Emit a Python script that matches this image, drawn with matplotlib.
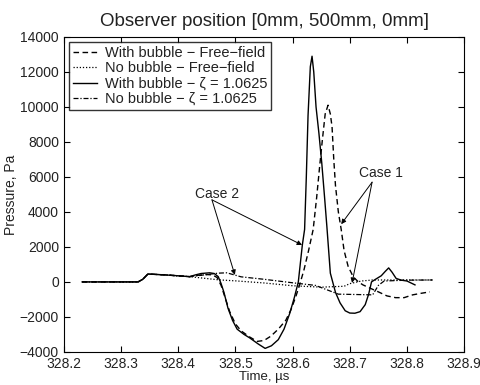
import matplotlib
matplotlib.use('Agg')
import matplotlib.pyplot as plt

plt.rcParams['font.family'] = ['Liberation Sans', 'DejaVu Sans']

# time in microseconds, pressure in Pa
t_wb_ff = [328.232, 328.33, 328.338, 328.347, 328.377, 328.42, 328.435, 328.45, 328.46,
           328.468, 328.475, 328.482, 328.49, 328.50, 328.51, 328.525, 328.538, 328.55,
           328.562, 328.575, 328.588, 328.597, 328.605, 328.612, 328.62, 328.628,
           328.636, 328.642, 328.647, 328.652, 328.657, 328.662, 328.666, 328.669,
           328.672, 328.675, 328.68, 328.685, 328.69, 328.697, 328.706, 328.715,
           328.723, 328.735, 328.75, 328.765, 328.78, 328.795, 328.81, 328.825, 328.84]
p_wb_ff = [0, 0, 150, 450, 400, 300, 380, 420, 400,
           250, -200, -900, -1700, -2400, -2800, -3150, -3400, -3350,
           -3100, -2700, -2200, -1600, -900, -200, 700, 1800,
           3000, 4800, 6500, 8100, 9600, 10100, 9600, 8860,
           7000, 5500, 4000, 3000, 1800, 900, 290, 0,
           -170, -350, -570, -800, -900, -900, -740, -650, -570]

t_nb_ff = [328.232, 328.33, 328.338, 328.347, 328.377, 328.42, 328.47, 328.5, 328.55,
           328.6, 328.65, 328.69, 328.70, 328.72, 328.74, 328.8, 328.845]
p_nb_ff = [0, 0, 150, 450, 400, 300, 120, 60, -60,
           -220, -300, -250, -100, 50, 110, 110, 110]

t_wb_z = [328.232, 328.33, 328.338, 328.347, 328.36, 328.377, 328.40, 328.42, 328.43,
          328.44, 328.455, 328.463, 328.47, 328.475, 328.48, 328.487, 328.495, 328.503,
          328.515, 328.525, 328.54, 328.552, 328.563, 328.575, 328.585, 328.595,
          328.603, 328.61, 328.617, 328.621, 328.624, 328.627, 328.631, 328.634,
          328.637, 328.641, 328.646, 328.651, 328.656, 328.660, 328.666, 328.675,
          328.683, 328.692, 328.70, 328.709, 328.718, 328.727, 328.733, 328.738,
          328.745, 328.755, 328.762, 328.768, 328.774, 328.781, 328.79, 328.80, 328.814]
p_wb_z = [0, 0, 150, 450, 430, 400, 350, 300, 400,
          480, 520, 480, 300, -100, -600, -1500, -2200, -2700,
          -3000, -3200, -3550, -3800, -3650, -3300, -2700, -1800,
          -900, 0, 2100, 3000, 6000, 9500, 12300, 12900,
          12000, 10000, 8500, 6800, 4800, 3140, 500, -600,
          -1200, -1650, -1780, -1790, -1700, -1300, -700, 0,
          150, 350, 600, 800, 550, 200, 100, 50, -170]

t_nb_z = [328.232, 328.33, 328.338, 328.347, 328.377, 328.42, 328.47, 328.485, 328.51,
          328.55, 328.6, 328.64, 328.68, 328.74, 328.75, 328.76, 328.8, 328.845]
p_nb_z = [0, 0, 150, 450, 400, 300, 500, 520, 290,
          150, -50, -200, -700, -740, -200, 50, 100, 110]

labels = ['With bubble \u2212 Free\u2212field',
          'No bubble \u2212 Free\u2212field',
          'With bubble \u2212 \u03b6 = 1.0625',
          'No bubble \u2212 \u03b6 = 1.0625']

fig = plt.figure(figsize=(4.8, 3.85), dpi=100)
ax = fig.add_axes([0.133, 0.086, 0.834, 0.818])

ax.plot(t_wb_ff, p_wb_ff, color='k', ls=(0, (4, 2.5)), lw=1, label=labels[0])
ax.plot(t_nb_ff, p_nb_ff, color='k', ls=(0, (1, 1.5)), lw=0.9, label=labels[1])
ax.plot(t_wb_z, p_wb_z, color='k', ls='-', lw=1, label=labels[2])
ax.plot(t_nb_z, p_nb_z, color='k', ls=(0, (4, 1.5, 1, 1.5)), lw=0.9, label=labels[3])

arrow = dict(arrowstyle='-|>', color='k', lw=0.7, mutation_scale=7, shrinkA=0, shrinkB=0)
ax.text(328.755, 6200, 'Case 1', fontsize=10, ha='center', va='center', color='#222222')
ax.annotate('', xy=(328.685, 3300), xytext=(328.739, 5700), arrowprops=arrow)
ax.annotate('', xy=(328.704, -60), xytext=(328.739, 5700), arrowprops=arrow)
ax.text(328.468, 5050, 'Case 2', fontsize=10, ha='center', va='center', color='#222222')
ax.annotate('', xy=(328.6165, 2110), xytext=(328.459, 4690), arrowprops=arrow)
ax.annotate('', xy=(328.499, 400), xytext=(328.459, 4690), arrowprops=arrow)

ax.set_xlim(328.2, 328.9)
ax.set_ylim(-4000, 14000)
ax.set_xticks([328.2, 328.3, 328.4, 328.5, 328.6, 328.7, 328.8, 328.9])
ax.set_yticks(range(-4000, 14001, 2000))
ax.tick_params(direction='in', top=True, right=True, labelsize=10, length=4,
               labelcolor='#222222')
ax.set_xlabel('Time, \u00b5s', fontsize=9.5, labelpad=0, color='#222222')
ax.set_ylabel('Pressure, Pa', fontsize=10, labelpad=1, color='#222222')
ax.set_title('Observer position [0mm, 500mm, 0mm]', fontsize=13.5, pad=8, color='#222222')

leg = ax.legend(loc='upper left', fontsize=10.5, frameon=True, fancybox=False,
                edgecolor='k', handlelength=1.7, borderaxespad=0.35,
                labelspacing=0.1, borderpad=0.25, handletextpad=0.5)
leg.get_frame().set_linewidth(1)
for txt in leg.get_texts():
    txt.set_color('#222222')

fig.savefig('out.png', dpi=100)
